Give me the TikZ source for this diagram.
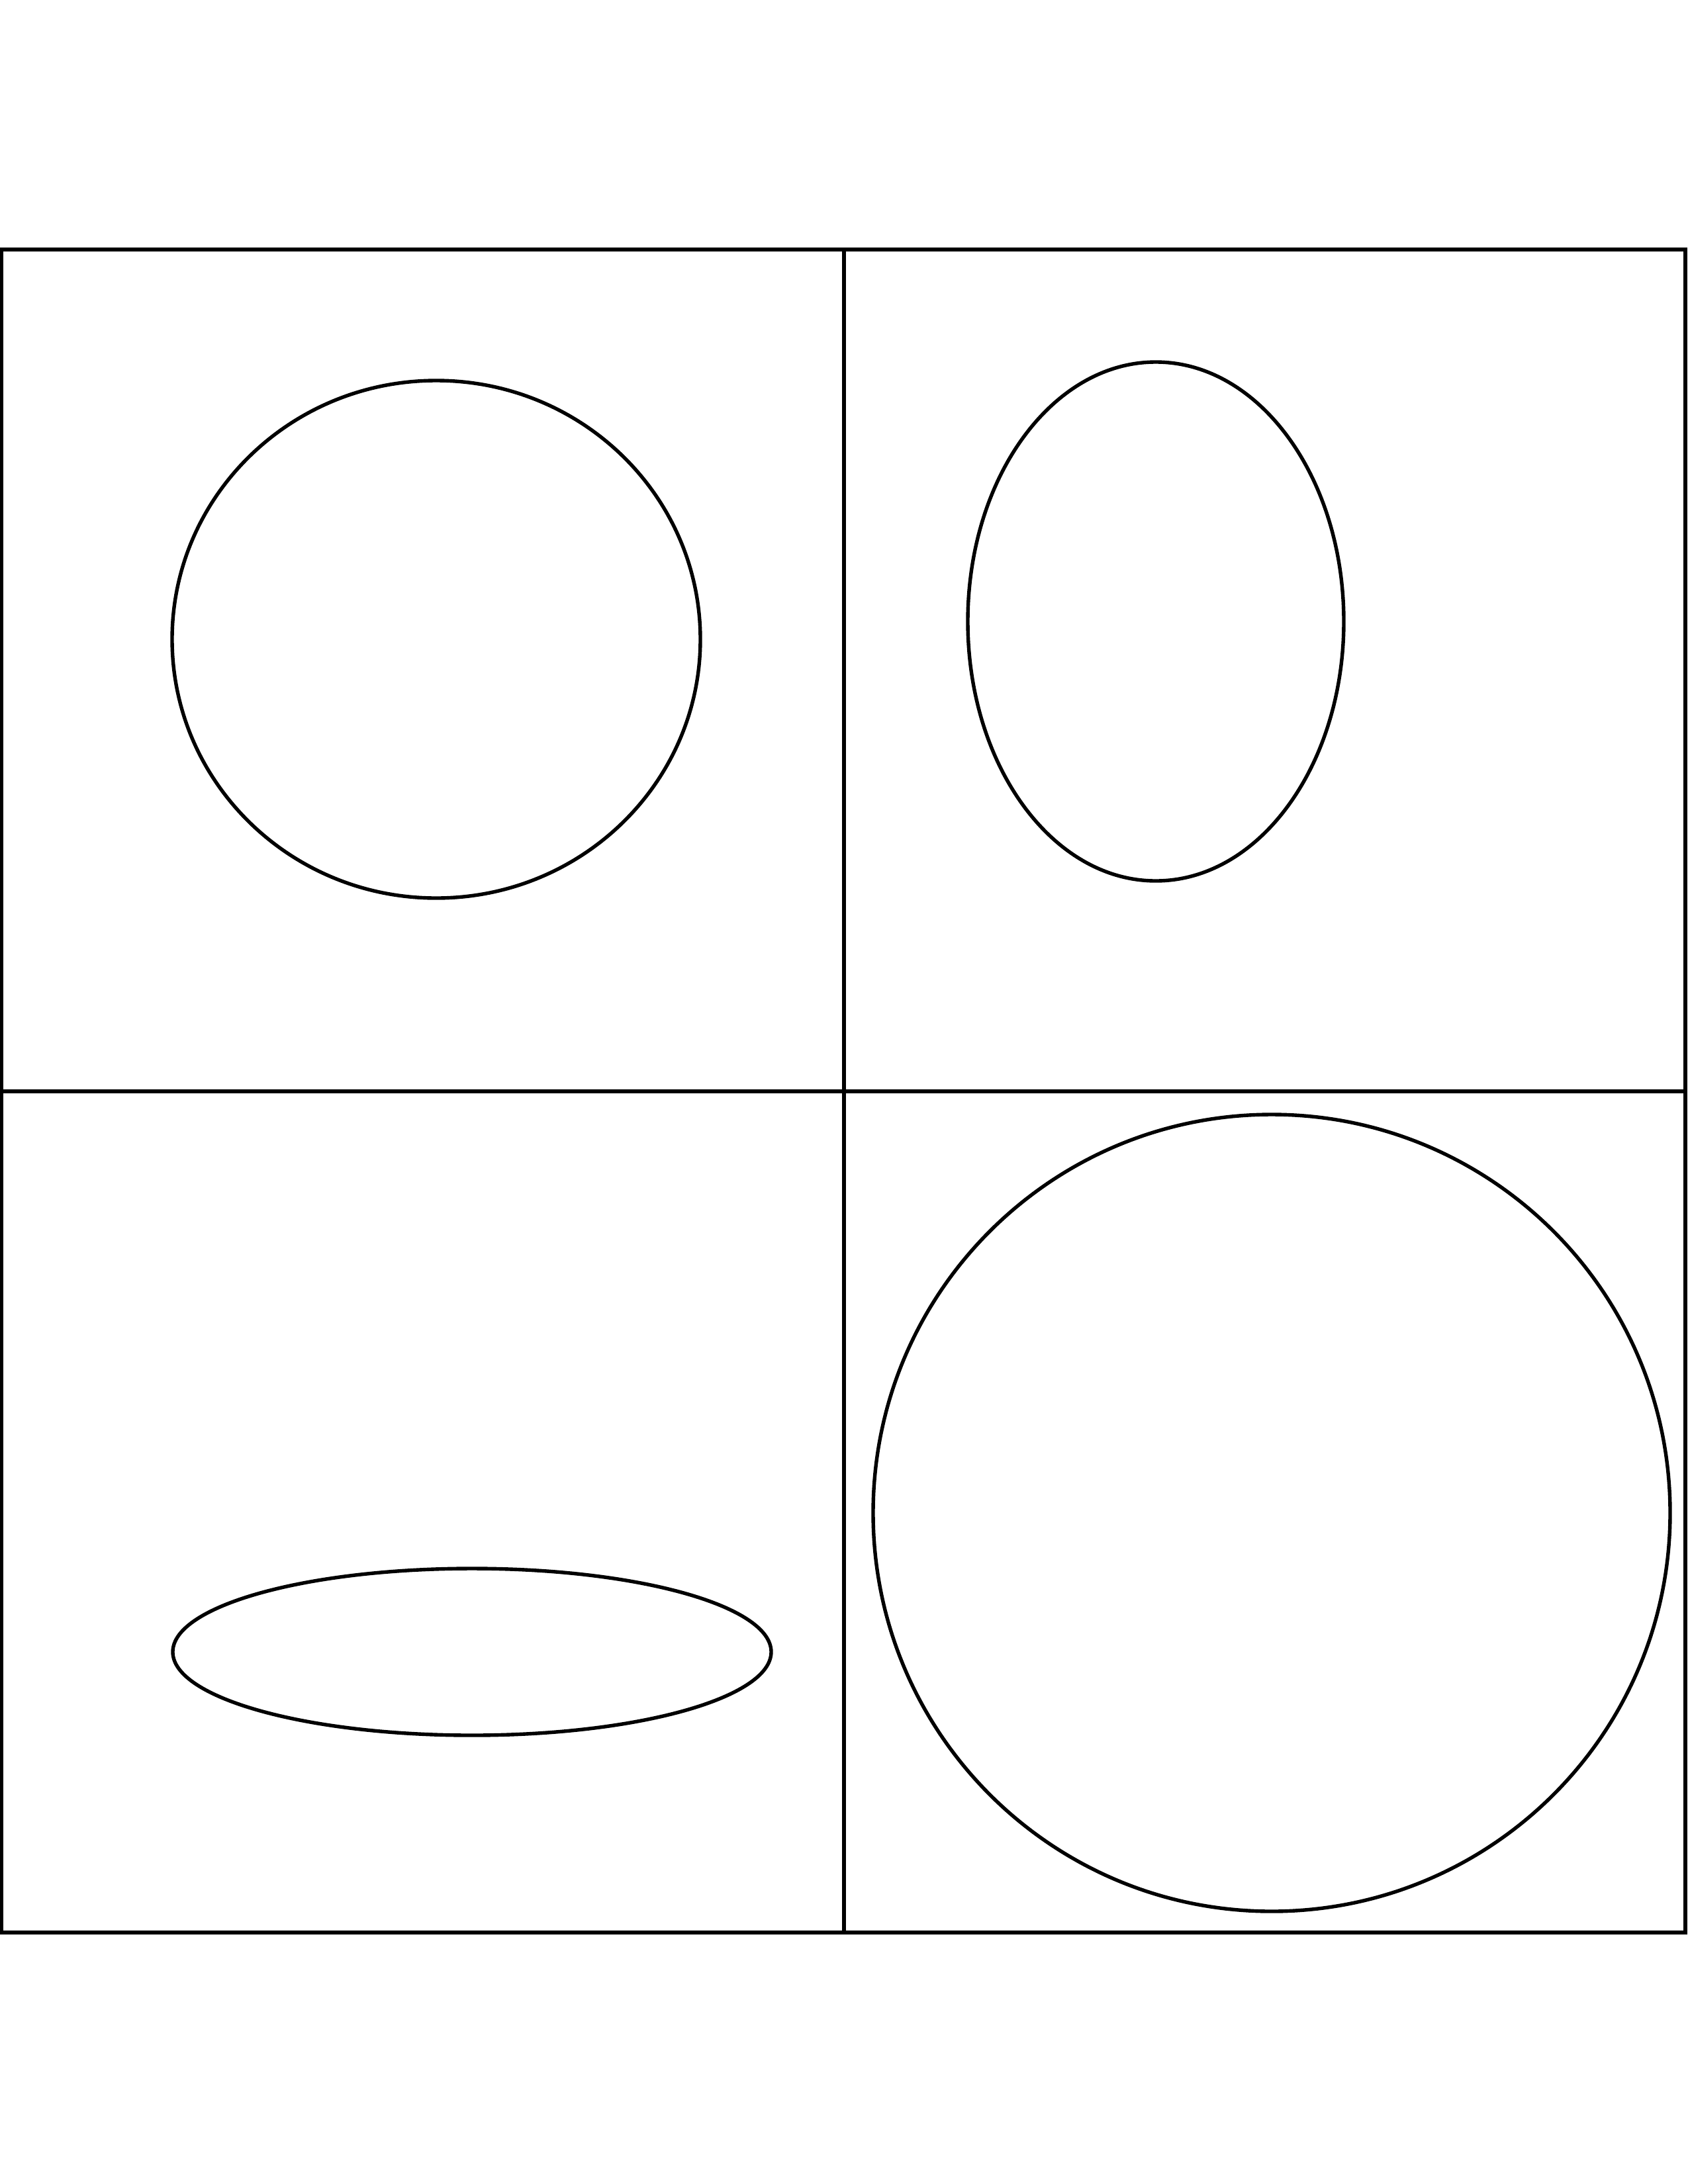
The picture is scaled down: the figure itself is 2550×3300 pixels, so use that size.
\documentclass[tikz,border=0pt]{standalone}
\begin{document}
\begin{tikzpicture}[x=0.0084667cm,y=-0.0084667cm,
  gridline/.style={line width=1.5pt,draw=black},
  shapeline/.style={line width=1.3pt,draw=black}]
\useasboundingbox (0,0) rectangle (2550,3300);
% grid
\draw[gridline] (2,377) rectangle (2546,2920);
\draw[gridline] (1275,377) -- (1275,2920);
\draw[gridline] (2,1649) -- (2546,1649);
% shapes
\draw[shapeline] (659,966) ellipse [x radius=399, y radius=391];
\draw[shapeline] (1746,939) ellipse [x radius=284, y radius=392];
\draw[shapeline] (713,2496) ellipse [x radius=452, y radius=126];
\draw[shapeline] (1921,2286) ellipse [x radius=602, y radius=602];
\end{tikzpicture}
\end{document}
